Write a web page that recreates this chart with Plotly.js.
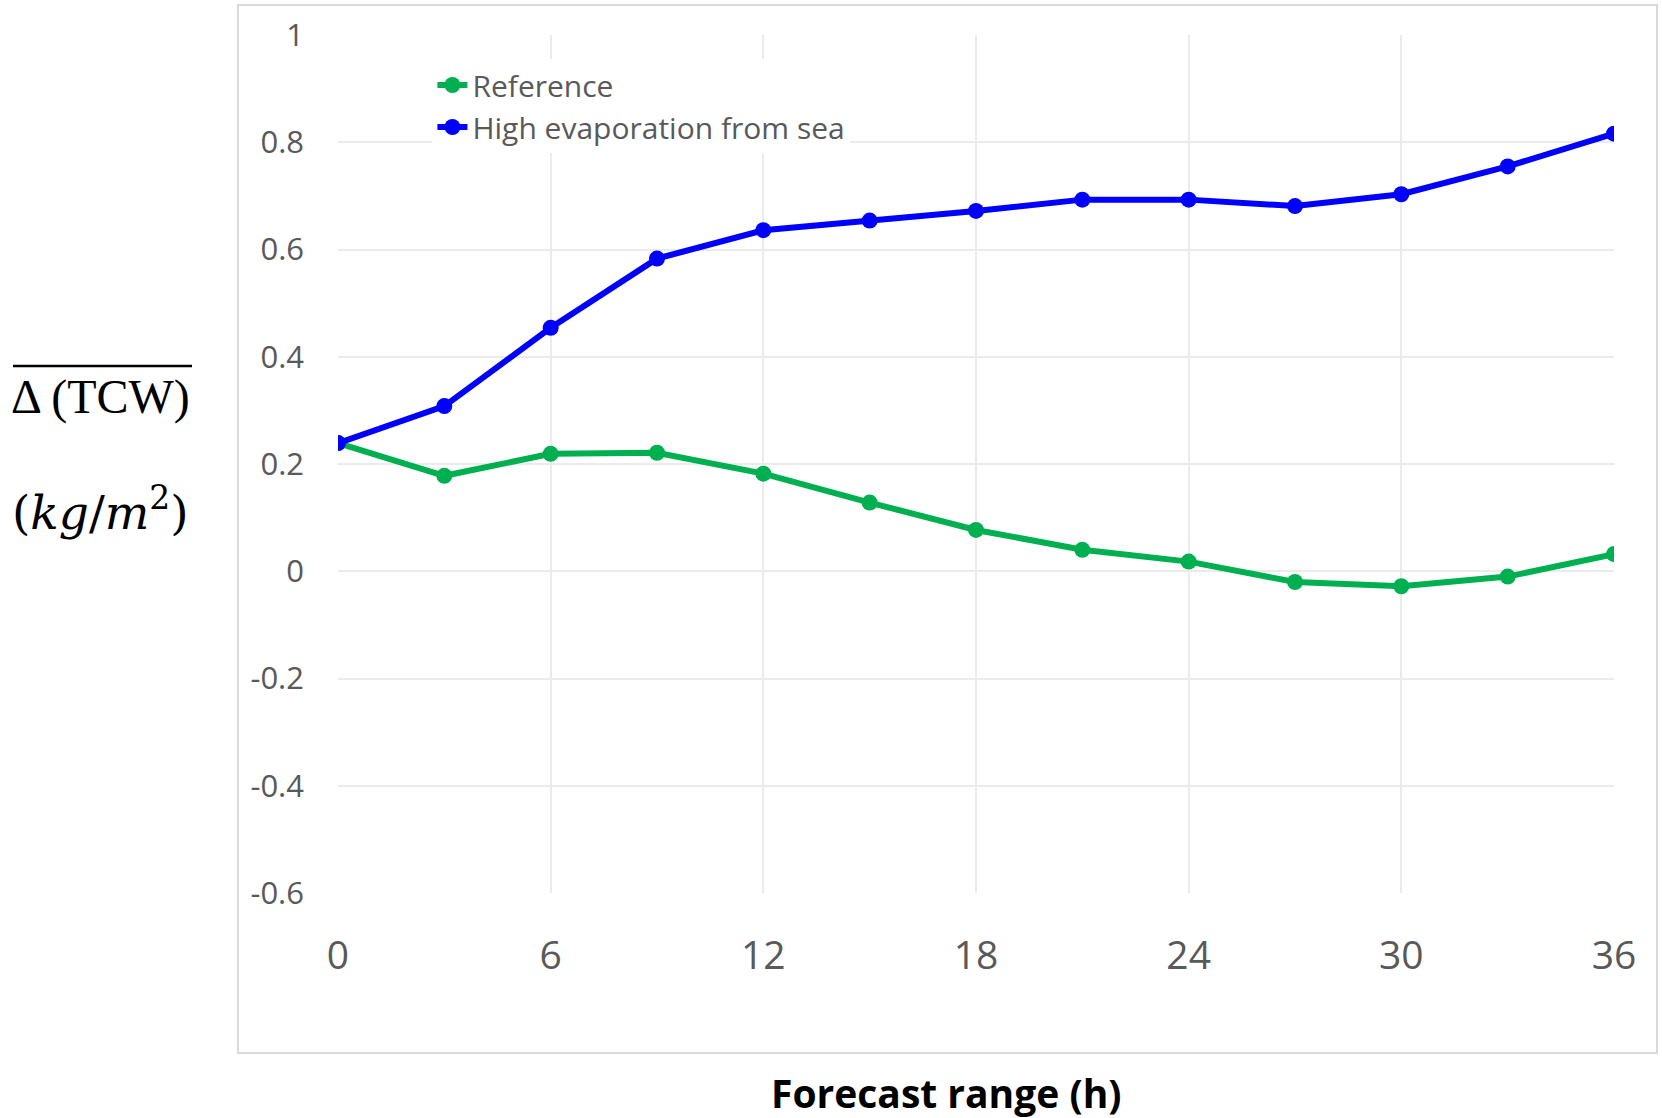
<!DOCTYPE html>
<html>
<head>
<meta charset="utf-8">
<script src="https://cdn.plot.ly/plotly-3.0.1.min.js"></script>
<style>html,body{margin:0;padding:0;background:#fff;}#chart{width:1662px;height:1118px;}</style>
</head>
<body>
<div id="chart"></div>
<script>
const forecastHours = [0, 3, 6, 9, 12, 15, 18, 21, 24, 27, 30, 33, 36];
const referenceValues = [0.239, 0.178, 0.219, 0.221, 0.182, 0.128, 0.077, 0.040, 0.018, -0.020, -0.028, -0.010, 0.032];
const highEvapValues = [0.239, 0.308, 0.454, 0.583, 0.636, 0.654, 0.672, 0.693, 0.693, 0.681, 0.703, 0.755, 0.816];
const xTickValues = [0, 6, 12, 18, 24, 30, 36];
const yTickValues = [-0.6, -0.4, -0.2, 0, 0.2, 0.4, 0.6, 0.8, 1];
const yTickLabels = ['-0.6', '-0.4', '-0.2', '0', '0.2', '0.4', '0.6', '0.8', '1'];

const font = '"Open Sans", Lato, sans-serif';

const traces = [
  {
    x: forecastHours, y: referenceValues, name: 'Reference',
    mode: 'lines+markers', type: 'scatter',
    line: {color: '#00b050', width: 6},
    marker: {color: '#00b050', size: 16}
  },
  {
    x: forecastHours, y: highEvapValues, name: 'High evaporation from sea',
    mode: 'lines+markers', type: 'scatter',
    line: {color: '#0000ff', width: 6},
    marker: {color: '#0000ff', size: 16}
  }
];

const layout = {
  width: 1662, height: 1118,
  margin: {l: 338, r: 48, t: 35, b: 225},
  paper_bgcolor: '#ffffff', plot_bgcolor: '#ffffff',
  font: {family: font, color: '#595959'},
  showlegend: true,
  legend: {
    x: 0.074, y: 0.972, xanchor: 'left', yanchor: 'top',
    bgcolor: 'rgba(255,255,255,1)',
    font: {family: font, size: 30, color: '#595959'},
    tracegroupgap: 0, itemwidth: 30
  },
  xaxis: {
    range: [0, 36], tickvals: xTickValues, ticktext: xTickValues.map(String),
    showgrid: true, gridcolor: '#ebebeb', gridwidth: 2,
    zeroline: false, showline: false, ticks: '',
    ticklabelstandoff: 36,
    tickfont: {family: font, size: 39, color: '#595959'}
  },
  yaxis: {
    range: [-0.6, 1], tickvals: yTickValues, ticktext: yTickLabels,
    showgrid: true, gridcolor: '#ebebeb', gridwidth: 2,
    zeroline: false, showline: false, ticks: '',
    ticklabelstandoff: 33,
    tickfont: {family: font, size: 31, color: '#595959'}
  },
  shapes: [
    {type: 'rect', xref: 'paper', yref: 'paper', x0: -0.0784, x1: 1.0337, y0: -0.1865, y1: 1.035,
     line: {color: '#d9d9d9', width: 2}, fillcolor: 'rgba(0,0,0,0)', layer: 'below'},
    {type: 'line', xref: 'paper', yref: 'paper', x0: -0.2547, x1: -0.1144, y0: 0.6142, y1: 0.6142,
     line: {color: '#000000', width: 2.5}}
  ],
  annotations: [
    {xref: 'paper', yref: 'paper', x: -0.186, y: 0.578, xanchor: 'center', yanchor: 'middle',
     text: 'Δ (TCW)', showarrow: false,
     font: {family: '"Liberation Serif", "DejaVu Serif", serif', size: 48, color: '#000000'}},
    {xref: 'paper', yref: 'paper', x: -0.186, y: 0.447, xanchor: 'center', yanchor: 'middle',
     text: '(<i>kg</i>/<i>m</i><sup>2</sup>)', showarrow: false,
     font: {family: '"DejaVu Serif", "Liberation Serif", serif', size: 47, color: '#000000'}},
    {xref: 'paper', yref: 'paper', x: 0.477, y: -0.233, xanchor: 'center', yanchor: 'middle',
     text: '<b>Forecast range (h)</b>', showarrow: false,
     font: {family: font, size: 39, color: '#000000'}}
  ]
};

Plotly.newPlot('chart', traces, layout, {displayModeBar: false, staticPlot: true});
</script>
</body>
</html>
